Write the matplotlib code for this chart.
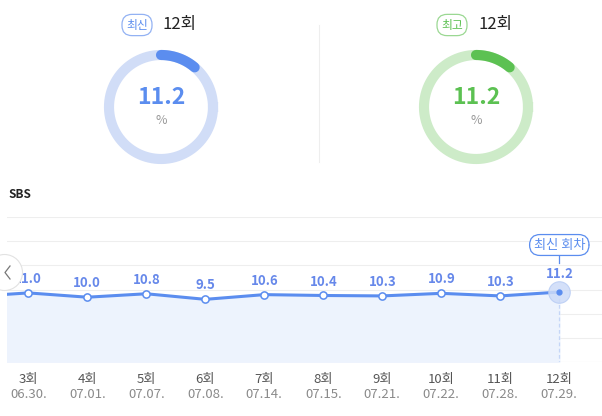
import numpy as np
import matplotlib.pyplot as plt
from matplotlib.patches import Circle

plt.rcParams['font.family'] = ['Noto Sans CJK KR', 'DejaVu Sans']

# data
episodes = ["3회", "4회", "5회", "6회", "7회", "8회", "9회", "10회", "11회", "12회"]
dates = ["06.30.", "07.01.", "07.07.", "07.08.", "07.14.",
         "07.15.", "07.21.", "07.22.", "07.28.", "07.29."]
ratings = [11.0, 10.0, 10.8, 9.5, 10.6, 10.4, 10.3, 10.9, 10.3, 11.2]
prev_rating = 10.1  # 2회, off the left edge
latest = {"tag": "최신", "ep": "12회", "value": 11.2}
best = {"tag": "최고", "ep": "12회", "value": 11.2}
channel = "SBS"

BLUE = "#5b8def"
BLUE_LIGHT = "#d1ddf7"
GREEN = "#5cc152"
GREEN_LIGHT = "#cdebc8"
LABEL = "#6688ea"

W, H = 602, 416
fig = plt.figure(figsize=(W / 100, H / 100), dpi=100)


def fx(px):
    return px / W


def fy(py):
    return 1 - py / H


# overlay axes in pixel coords for decorations
over = fig.add_axes([0, 0, 1, 1], zorder=5)
over.set_xlim(0, W)
over.set_ylim(H, 0)
over.axis("off")


def donut(cx, info, main, light, edge):
    size = 140
    ax = fig.add_axes([fx(cx - size / 2), fy(107 + size / 2), size / W, size / H])
    ax.set_xlim(-size / 2, size / 2)
    ax.set_ylim(-size / 2, size / 2)
    ax.set_aspect("equal")
    ax.axis("off")
    r = 52
    t = np.linspace(0, 2 * np.pi, 300)
    ax.plot(r * np.cos(t), r * np.sin(t), color=light, lw=7.3)
    ang = np.radians(90 - np.linspace(0, 360 * info["value"] / 100, 60))
    ax.plot(r * np.cos(ang), r * np.sin(ang), color=main, lw=7.3,
            solid_capstyle="round")
    ax.text(0, 9, "%.1f" % info["value"], ha="center", va="center",
            fontsize=16.5, fontweight="bold", color=main)
    ax.text(0, -14, "%", ha="center", va="center", fontsize=9, color="#999999")
    # tag pill + episode
    over.text(cx - 24, 25, info["tag"], ha="center", va="center", fontsize=8.5,
              color=main,
              bbox=dict(boxstyle="round,pad=0.35,rounding_size=0.85",
                        fc="white", ec=edge, lw=0.9))
    over.text(cx + 2, 24, info["ep"], ha="left", va="center", fontsize=12,
              color="#222222", fontweight="light")


donut(161, latest, BLUE, BLUE_LIGHT, "#93b2f3")
donut(476, best, GREEN, GREEN_LIGHT, "#9bd893")
over.plot([319, 319], [25, 162], color="#eeeeee", lw=0.8)

over.text(8, 194, channel, ha="left", va="center", fontsize=8.5,
          fontweight="bold", color="#222222")

# line chart
top, bottom, left = 217.3, 361.7, 7
ax = fig.add_axes([fx(left), fy(bottom), (W - left) / W, (bottom - top) / H])
x = np.arange(len(ratings))
step = 59
ax.set_xlim((left - 28.3) / step, (W - 28.3) / step)
b = 4.29
a = 340.1
ax.set_ylim((a - bottom) / b, (a - top) / b)
ax.axis("off")
lo, hi = ax.get_ylim()
for g in np.linspace(lo, hi, 7):
    ax.axhline(g, color="#e3e3e3" if g == lo else "#eeeeee", lw=0.8, zorder=0)

xs = np.concatenate([[-1], x])
ys = [prev_rating] + ratings
ax.fill_between(xs, ys, lo, color="#edf3fd", zorder=1)
ax.plot(xs, ys, color=BLUE, lw=2.2, zorder=3)
ax.plot(x[:-1], ratings[:-1], "o", ms=5.2, mfc="white", mec=BLUE, mew=1.1,
        zorder=4)
ax.plot([x[-1], x[-1]], [ratings[-1], lo], color="#c5d6f7", lw=0.9,
        ls=(0, (3, 2)), zorder=2)
ax.plot(x[-1], ratings[-1], "o", ms=15.5, mfc="#cddbf8", mec="#b8ccf4",
        mew=0.8, alpha=0.85, zorder=4)
ax.plot(x[-1], ratings[-1], "o", ms=3.5, color=BLUE, zorder=5)

for i, v in enumerate(ratings):
    off = 13 if i == len(ratings) - 1 else 10
    ax.annotate("%.1f" % v, (i, v), xytext=(0, off), textcoords="offset points",
                ha="center", va="center", fontsize=9.5, fontweight="bold",
                color=LABEL, zorder=6)

# latest marker pill
lx = 28.3 + step * (len(ratings) - 1)
over.text(lx, 245, "최신 회차", ha="center", va="center", fontsize=9.5,
          color=BLUE, bbox=dict(boxstyle="round,pad=0.3,rounding_size=0.8",
                                fc="white", ec=BLUE, lw=0.9))
over.plot([lx, lx], [254, 263], color=BLUE, lw=0.9)

# tick labels
for i, (ep, d) in enumerate(zip(episodes, dates)):
    px = 28.3 + step * i
    over.text(px, 379, ep, ha="center", va="center", fontsize=9.5,
              color="#555555")
    over.text(px, 394.5, d, ha="center", va="center", fontsize=9.5,
              color="#8a8a8a")

# left nav button
over.add_patch(Circle((4.5, 272.5), 18, fc="white", ec="#e2e2e2", lw=0.8,
                      zorder=7))
over.plot([10, 5, 10], [266, 272.5, 279], color="#777777", lw=0.9, zorder=8)

fig.savefig("out.png", dpi=100)
